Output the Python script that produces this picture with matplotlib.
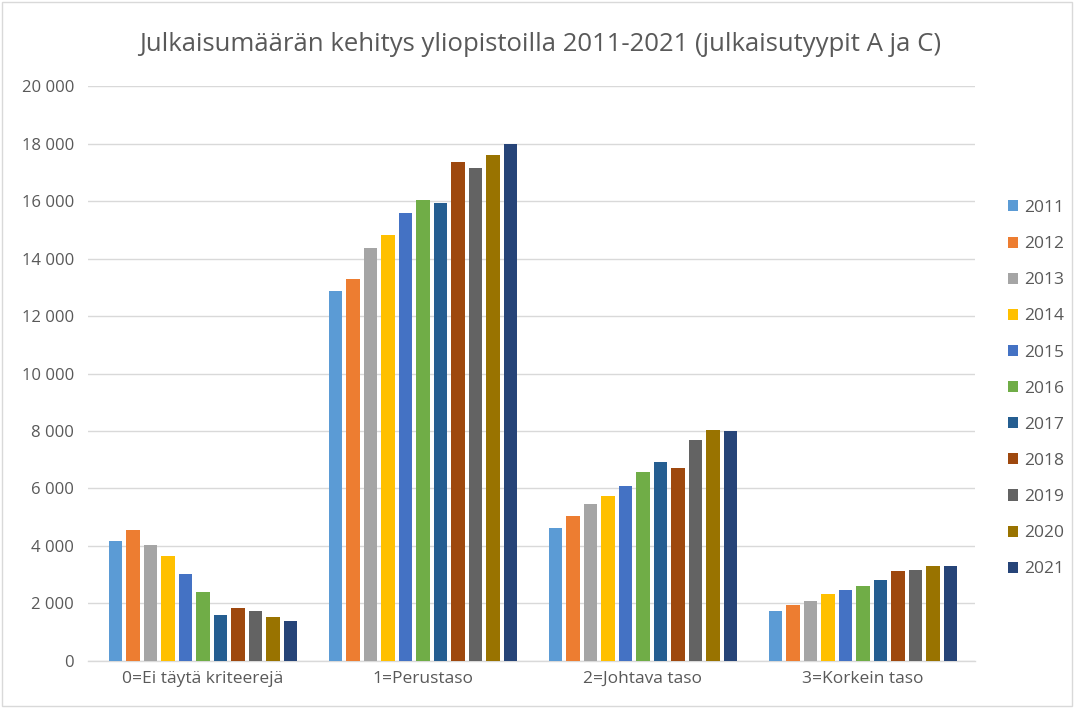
import matplotlib
matplotlib.use("Agg")
import matplotlib.pyplot as plt
from matplotlib.patches import Rectangle
from matplotlib.ticker import FuncFormatter
import numpy as np

categories = ["0=Ei täytä kriteerejä", "1=Perustaso", "2=Johtava taso", "3=Korkein taso"]
years = ["2011", "2012", "2013", "2014", "2015", "2016", "2017", "2018", "2019", "2020", "2021"]
colors = ["#5b9bd5", "#ed7d31", "#a5a5a5", "#ffc000", "#4472c4", "#70ad47",
          "#255e91", "#9e480e", "#636363", "#997300", "#264478"]

v2011 = [4190, 12880, 4620, 1730]
v2012 = [4540, 13270, 5030, 1950]
v2013 = [4040, 14380, 5460, 2090]
v2014 = [3650, 14830, 5740, 2340]
v2015 = [3020, 15570, 6070, 2480]
v2016 = [2390, 16040, 6560, 2620]
v2017 = [1590, 15940, 6910, 2830]
v2018 = [1850, 17350, 6700, 3120]
v2019 = [1740, 17140, 7670, 3160]
v2020 = [1520, 17600, 8050, 3290]
v2021 = [1390, 18000, 8010, 3290]
series = [v2011, v2012, v2013, v2014, v2015, v2016, v2017, v2018, v2019, v2020, v2021]

plt.rcParams['font.family'] = ['Open Sans', 'DejaVu Sans']

fig = plt.figure(figsize=(10.74, 7.08), dpi=100)
ax = fig.add_axes([0.0819, 0.0664, 0.8259, 0.8121])

x = np.arange(len(categories))
step = 0.0795
width = 0.062
n = len(series)
for i, (vals, c, y) in enumerate(zip(series, colors, years)):
    off = (i - (n - 1) / 2) * step
    ax.bar(x + off, vals, width=width, color=c, label=y, zorder=3)

ax.set_xlim(-0.5227, 3.509)
ax.set_ylim(0, 20000)
ax.set_yticks(np.arange(0, 20001, 2000))
ax.yaxis.set_major_formatter(FuncFormatter(lambda v, p: f"{int(v):,}".replace(",", " ")))
ax.set_xticks(x)
ax.set_xticklabels(categories)
ax.grid(axis='y', color='#d9d9d9', linewidth=1, zorder=0)
for s in ['top', 'right', 'left']:
    ax.spines[s].set_visible(False)
ax.spines['bottom'].set_color('#d9d9d9')
ax.spines['bottom'].set_linewidth(1)
ax.tick_params(axis='both', length=0, colors='#595959')
ax.tick_params(axis='y', pad=10, labelsize=12)
ax.tick_params(axis='x', pad=7, labelsize=12.5)

fig.text(0.503, 0.937, "Julkaisumäärän kehitys yliopistoilla 2011-2021 (julkaisutyypit A ja C)",
         ha='center', va='center', fontsize=18.5, color='#595959')

leg = fig.legend(loc='center left', bbox_to_anchor=(0.932, 0.451), frameon=False,
                 handlelength=0.6, handleheight=0.6, handletextpad=0.35,
                 labelspacing=1.16, fontsize=12.5, borderaxespad=0)
for t in leg.get_texts():
    t.set_color('#595959')

fig.patches.append(Rectangle((0.002, 0.003), 0.996, 0.994, transform=fig.transFigure,
                             fill=False, edgecolor='#d9d9d9', linewidth=1))

fig.savefig("out.png", dpi=100)
